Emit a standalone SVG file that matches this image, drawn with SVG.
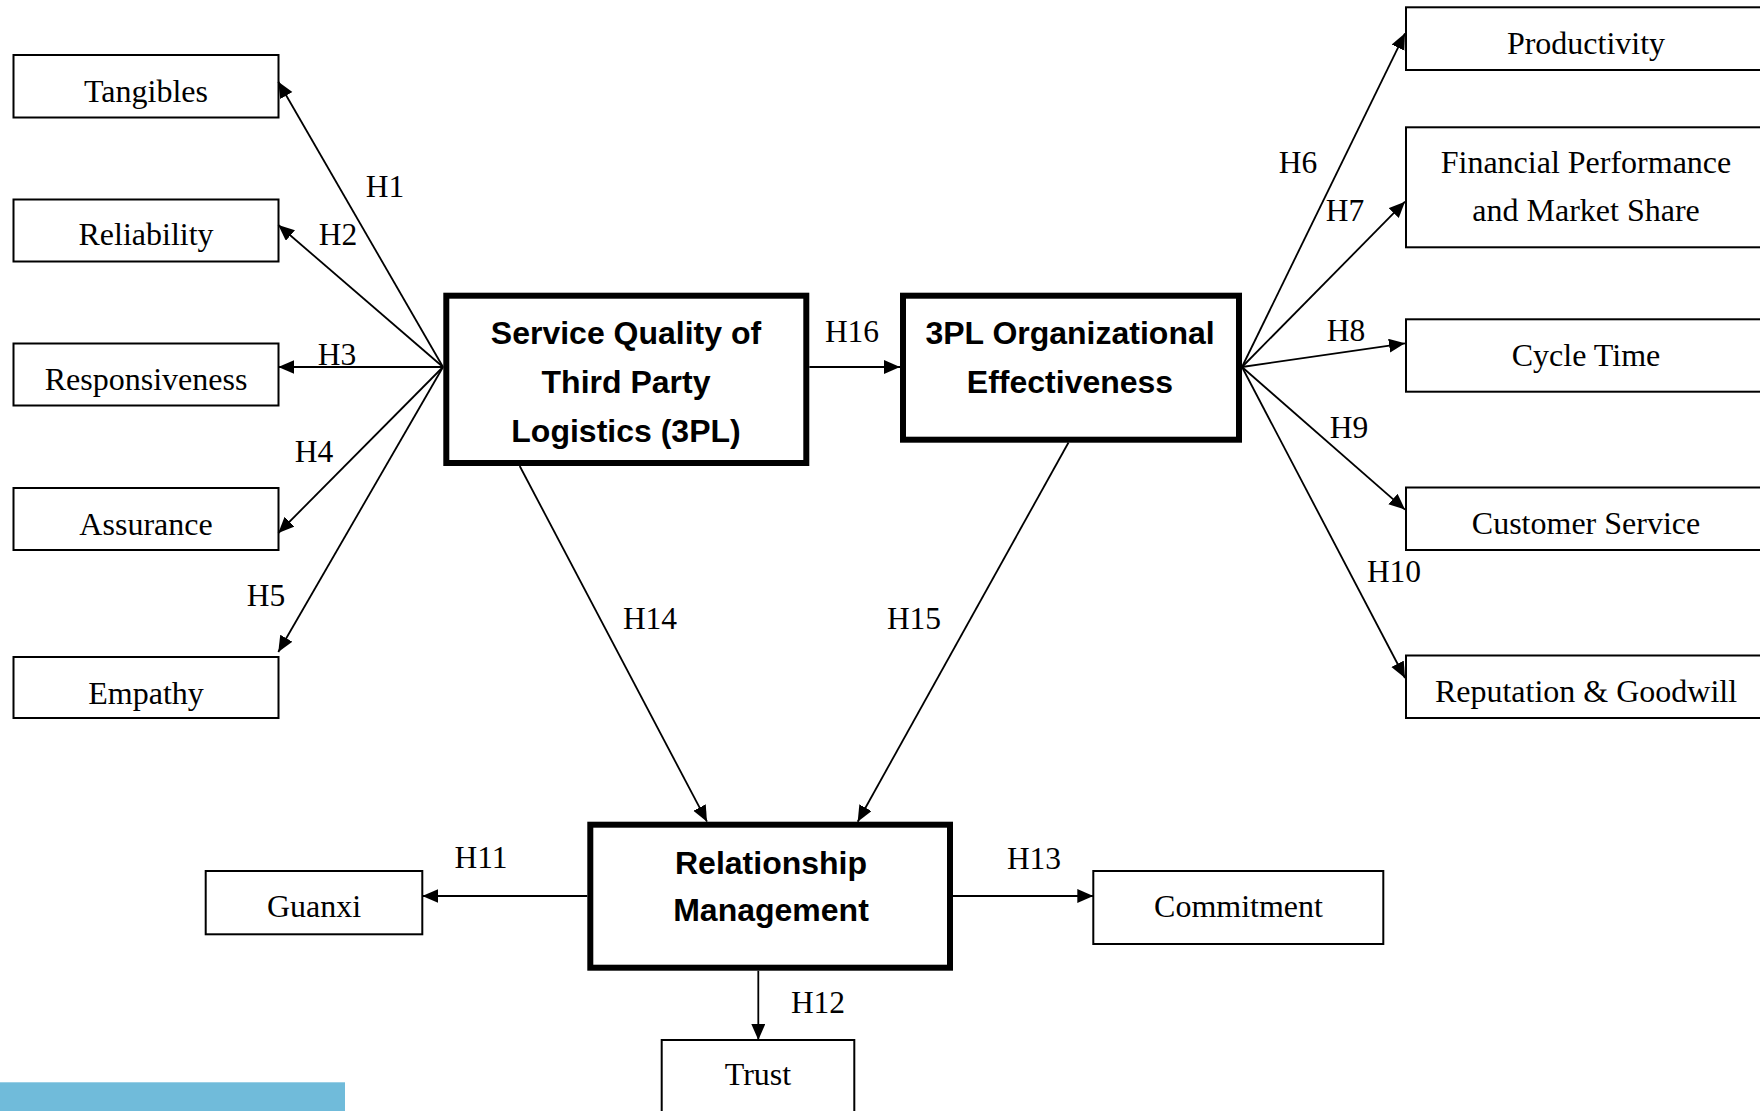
<svg xmlns="http://www.w3.org/2000/svg" width="1760" height="1111" viewBox="0 0 1760 1111">
  <style>
    .box { fill: #fff; stroke: #000; stroke-width: 2; }
    .core { fill: #fff; stroke: #000; stroke-width: 6; }
    .lbl { font-family: "Liberation Serif", "Times New Roman", serif; font-size: 32px; fill: #000; text-anchor: middle; }
    .hyp { font-family: "Liberation Serif", "Times New Roman", serif; font-size: 31.5px; fill: #000; text-anchor: middle; }
    .bold { font-family: "Liberation Sans", Arial, sans-serif; font-weight: bold; font-size: 32px; fill: #000; text-anchor: middle; }
    .link { stroke: #000; stroke-width: 1.8; fill: none; marker-end: url(#arrow); }
  </style>
  <defs>
    <marker id="arrow" markerUnits="userSpaceOnUse" markerWidth="17" markerHeight="15" refX="16" refY="7" orient="auto">
      <path d="M0,0 L16,7 L0,14 Z" fill="#000"/>
    </marker>
  </defs>
  <rect width="1760" height="1111" fill="#fff"/>

  <!-- service-quality dimensions -->
  <g id="tangibles"><rect class="box" x="13.5" y="55" width="265" height="62.5"/><text class="lbl" x="146" y="101.7">Tangibles</text></g>
  <g id="reliability"><rect class="box" x="13.5" y="199.5" width="265" height="62"/><text class="lbl" x="146" y="245">Reliability</text></g>
  <g id="responsiveness"><rect class="box" x="13.5" y="343.5" width="265" height="62"/><text class="lbl" x="146" y="390">Responsiveness</text></g>
  <g id="assurance"><rect class="box" x="13.5" y="488" width="265" height="62"/><text class="lbl" x="146" y="534.5">Assurance</text></g>
  <g id="empathy"><rect class="box" x="13.5" y="657" width="265" height="61"/><text class="lbl" x="146" y="703.5">Empathy</text></g>

  <!-- core constructs -->
  <g id="service-quality"><rect class="core" x="446.3" y="295.7" width="360" height="167.3"/>
    <text class="bold" x="626" y="344.3">Service Quality of</text>
    <text class="bold" x="626" y="392.8">Third Party</text>
    <text class="bold" x="626" y="441.5">Logistics (3PL)</text></g>
  <g id="org-effectiveness"><rect class="core" x="903" y="295.7" width="336" height="144"/>
    <text class="bold" x="1070" y="344.3">3PL Organizational</text>
    <text class="bold" x="1070" y="392.8">Effectiveness</text></g>
  <g id="relationship-mgmt"><rect class="core" x="590.3" y="824.7" width="359.7" height="143"/>
    <text class="bold" x="771" y="874">Relationship</text>
    <text class="bold" x="771" y="920.5">Management</text></g>

  <!-- effectiveness outcomes -->
  <g id="productivity"><rect class="box" x="1406" y="7.3" width="360" height="62.7"/><text class="lbl" x="1586" y="54">Productivity</text></g>
  <g id="financial"><rect class="box" x="1406" y="127.3" width="360" height="120"/>
    <text class="lbl" x="1586" y="173.3">Financial Performance</text>
    <text class="lbl" x="1586" y="220.7">and Market Share</text></g>
  <g id="cycle-time"><rect class="box" x="1406" y="319.3" width="360" height="72.4"/><text class="lbl" x="1586" y="365.7">Cycle Time</text></g>
  <g id="customer-service"><rect class="box" x="1406" y="487.5" width="360" height="62.5"/><text class="lbl" x="1586" y="534">Customer Service</text></g>
  <g id="reputation"><rect class="box" x="1406" y="655.5" width="360" height="62.5"/><text class="lbl" x="1586" y="702">Reputation &amp; Goodwill</text></g>

  <!-- relationship outcomes -->
  <g id="guanxi"><rect class="box" x="205.7" y="871" width="216.6" height="63.3"/><text class="lbl" x="314" y="917.3">Guanxi</text></g>
  <g id="commitment"><rect class="box" x="1093.3" y="871" width="290" height="73"/><text class="lbl" x="1238.5" y="917.3">Commitment</text></g>
  <g id="trust"><rect class="box" x="661.7" y="1040" width="192.6" height="100"/><text class="lbl" x="758" y="1085">Trust</text></g>

  <!-- connectors -->
  <g id="connectors">
    <line class="link" x1="443" y1="367" x2="278.3" y2="81.7"/>
    <line class="link" x1="443" y1="367" x2="278.3" y2="225"/>
    <line class="link" x1="443" y1="367" x2="278.3" y2="367"/>
    <line class="link" x1="443" y1="367" x2="278.3" y2="533"/>
    <line class="link" x1="443" y1="367" x2="278.3" y2="652"/>

    <line class="link" x1="1242" y1="367" x2="1405" y2="33.3"/>
    <line class="link" x1="1242" y1="367" x2="1405" y2="201.7"/>
    <line class="link" x1="1242" y1="367" x2="1405" y2="343.3"/>
    <line class="link" x1="1242" y1="367" x2="1405" y2="509.6"/>
    <line class="link" x1="1242" y1="367" x2="1405" y2="678"/>

    <line class="link" x1="809.3" y1="367" x2="900" y2="367"/>
    <line class="link" x1="519.7" y1="466" x2="707" y2="821.7"/>
    <line class="link" x1="1068.5" y1="442.5" x2="857.7" y2="821.7"/>
    <line class="link" x1="587.3" y1="896" x2="422.3" y2="896"/>
    <line class="link" x1="953" y1="896" x2="1093.3" y2="896"/>
    <line class="link" x1="758.3" y1="970.7" x2="758.3" y2="1040"/>

    <text class="hyp" x="385" y="196.5">H1</text>
    <text class="hyp" x="338" y="245">H2</text>
    <text class="hyp" x="337" y="365">H3</text>
    <text class="hyp" x="314" y="461.5">H4</text>
    <text class="hyp" x="266" y="605.5">H5</text>
    <text class="hyp" x="1298" y="172.7">H6</text>
    <text class="hyp" x="1345" y="221">H7</text>
    <text class="hyp" x="1346" y="340.7">H8</text>
    <text class="hyp" x="1349" y="438">H9</text>
    <text class="hyp" x="1394" y="581.5">H10</text>
    <text class="hyp" x="481" y="868.3">H11</text>
    <text class="hyp" x="818" y="1012.7">H12</text>
    <text class="hyp" x="1034" y="869">H13</text>
    <text class="hyp" x="650" y="629.3">H14</text>
    <text class="hyp" x="914" y="629.3">H15</text>
    <text class="hyp" x="852" y="341.5">H16</text>
  </g>

  <!-- page accent strip -->
  <rect x="0" y="1082.3" width="345" height="28.7" fill="#70BBDA"/>
</svg>
